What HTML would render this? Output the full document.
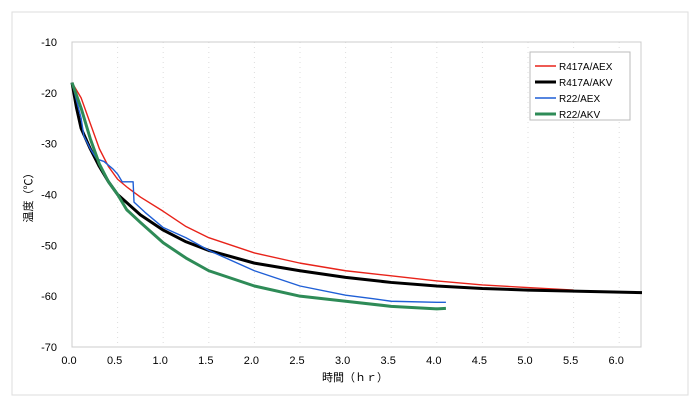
<!DOCTYPE html>
<html><head><meta charset="utf-8"><style>
body{margin:0;background:#fff;}
svg{display:block;font-family:"Liberation Sans","Noto Sans CJK JP",sans-serif;}
</style></head><body>
<svg id="c" width="700" height="408">
<rect x="12" y="12" width="676" height="383" fill="#fff" stroke="#ddd"/>
<g id="grid"></g><g id="axes"></g><g id="series"></g>
<g>
<rect x="530" y="52" width="100" height="68" fill="#fff" stroke="#bbb"/>
</g>
<g id="leg"></g>
<text x="355" y="381" font-size="11" text-anchor="middle">時間（ｈｒ）</text>
<text transform="translate(32,195) rotate(-90)" font-size="11" text-anchor="middle">温度（℃）</text>
</svg>
<script>
const xTicks=[0,0.5,1,1.5,2,2.5,3,3.5,4,4.5,5,5.5,6];
const yTicks=[-10,-20,-30,-40,-50,-60,-70];
const seriesNames=["R417A/AEX","R417A/AKV","R22/AEX","R22/AKV"];
const redT=[0,0.1,0.2,0.3,0.4,0.5,0.6,0.75,1,1.25,1.5,2,2.5,3,3.5,4,4.5,5,5.5];
const redV=[-18,-21,-26,-31,-34.5,-37,-38.5,-40.5,-43.3,-46.3,-48.5,-51.5,-53.5,-55,-56,-57,-57.8,-58.3,-58.8];
const blackT=[0,0.05,0.1,0.2,0.3,0.4,0.5,0.75,1,1.25,1.5,2,2.5,3,3.5,4,4.5,5,5.5,6,6.25];
const blackV=[-18,-23,-27,-31,-34.5,-37.5,-40,-44,-47,-49.3,-51,-53.5,-55,-56.3,-57.3,-58,-58.5,-58.8,-59,-59.2,-59.3];
const blueT=[0,0.1,0.13,0.2,0.27,0.35,0.45,0.5,0.55,0.67,0.68,0.8,1,1.25,1.5,2,2.5,3,3.3,3.5,4,4.1];
const blueV=[-18,-25,-28.5,-31,-33,-33.5,-35,-36,-37.5,-37.5,-41.5,-43.5,-46.5,-48.5,-51,-55,-58,-59.8,-60.5,-61,-61.2,-61.2];
const greenT=[0,0.1,0.2,0.3,0.4,0.5,0.6,0.75,1,1.25,1.5,2,2.5,3,3.5,4,4.1];
const greenV=[-18,-23,-29,-34,-37.5,-40,-43,-45.5,-49.5,-52.5,-55,-58,-60,-61,-62,-62.5,-62.4];
const X0=72,XR=641,YT=42,YB=347,pxPerHr=91.2;
const sx=t=>X0+t*pxPerHr, sy=v=>YT+(-10-v)/60*(YB-YT);
const NS="http://www.w3.org/2000/svg";
function mk(tag,attrs,parent){const e=document.createElementNS(NS,tag);for(const k in attrs)e.setAttribute(k,attrs[k]);document.getElementById(parent).appendChild(e);return e;}
const g="grid",a="axes";
mk("rect",{x:X0,y:YT,width:XR-X0,height:YB-YT,fill:"none",stroke:"#ccc"},a);
yTicks.forEach(v=>{
 if(v>-10&&v>-70){const l=mk("line",{x1:X0,x2:XR,y1:sy(v),y2:sy(v),stroke:"#ddd","stroke-dasharray":"1,4"},g);
 
 }
 const t=mk("text",{x:57,y:sy(v)+4,"font-size":"11","text-anchor":"end"},a);t.textContent=v;
 
 
});
xTicks.forEach(v=>{
 if(v>0){const l=mk("line",{x1:sx(v),x2:sx(v),y1:YT,y2:YB,stroke:"#ddd","stroke-dasharray":"1,4"},g);
 
 }
 const t=mk("text",{x:sx(v)-3,y:364,"font-size":"11","text-anchor":"middle"},a);t.textContent=v.toFixed(1);
 
 
});
const defs=[[redT,redV,"#e8231a",1.4],[blackT,blackV,"#000",3],[blueT,blueV,"#1f5fd6",1.4],[greenT,greenV,"#2e8b57",3]];
defs.forEach((d,i)=>{
 const p=mk("polyline",{points:d[0].map((t,j)=>sx(t)+","+sy(d[1][j])).join(" "),fill:"none",stroke:d[2],"stroke-width":d[3],"stroke-linejoin":"round"},"series");
 
 
 const y=66+i*16;
 const l=mk("line",{x1:535,x2:556,y1:y,y2:y,stroke:d[2],"stroke-width":d[3]},"leg");
 
 
 const t=mk("text",{x:559,y:y+4,"font-size":"10"},"leg");t.textContent=seriesNames[i];
 
 
});
</script>
</body></html>
